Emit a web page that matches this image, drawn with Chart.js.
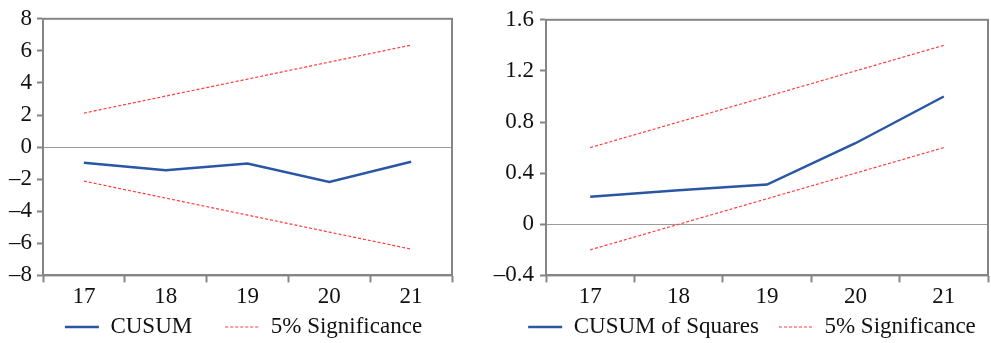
<!DOCTYPE html>
<html lang="en">
<head>
  <meta charset="UTF-8" />
  <title>CUSUM tests</title>
  <script src="https://cdn.jsdelivr.net/npm/chart.js"></script>
  <style>
    body { margin: 0; background: #fff; overflow: hidden; }
    .wrap { position: relative; width: 991px; height: 343px; }
    canvas { position: absolute; top: 0; }
  </style>
</head>
<body>
  <div class="wrap">
    <canvas id="cusumChart" width="480" height="343" style="left:0"></canvas>
    <canvas id="cusumSqChart" width="511" height="343" style="left:480px"></canvas>
  </div>

  <script>
    // categories (observation index)
    const periods = ["17", "18", "19", "20", "21"];

    // left panel: CUSUM
    const cusum = [-0.97, -1.45, -1.03, -2.17, -0.91];
    const cusumUpper = [2.12, 3.18, 4.24, 5.30, 6.36];
    const cusumLower = [-2.12, -3.18, -4.24, -5.30, -6.36];
    const cusumTicks = [-8, -6, -4, -2, 0, 2, 4, 6, 8];

    // right panel: CUSUM of squares
    const cusumSq = [0.215, 0.267, 0.311, 0.634, 1.0];
    const cusumSqUpper = [0.6, 0.8, 1.0, 1.2, 1.4];
    const cusumSqLower = [-0.2, 0.0, 0.2, 0.4, 0.6];
    const cusumSqTicks = [-0.4, 0, 0.4, 0.8, 1.2, 1.6];

    const FONT_SIZE = 23;
    Chart.defaults.font.family = "Liberation Serif, Times New Roman, serif";
    Chart.defaults.font.size = FONT_SIZE;
    Chart.defaults.color = "#111";

    const AXIS = "#858585";
    const BLUE = "#2a56a6";
    const RED = "#ff3b3b";

    // box round the plot area
    const frame = {
      id: "frame",
      afterDatasetsDraw(chart) {
        const a = chart.chartArea, ctx = chart.ctx;
        ctx.save();
        ctx.strokeStyle = AXIS;
        ctx.lineWidth = 2;
        ctx.strokeRect(a.left, a.top, a.right - a.left, a.bottom - a.top);
        ctx.restore();
      }
    };

    // move legend under the plot like the original
    const legendPlace = {
      id: "legendPlace",
      afterLayout(chart, args, o) {
        const lg = chart.legend;
        lg.left += o.dx;
        lg.right += o.dx;
        lg.top = o.textY - lg.options.labels.padding - FONT_SIZE / 2;
        lg.bottom = chart.height;
      }
    };

    function makeChart(id, label, values, upper, lower, ticks, opts) {
      return new Chart(document.getElementById(id), {
        type: "line",
        data: {
          labels: periods,
          datasets: [
            { label: label, data: values, borderColor: BLUE, borderWidth: 2.5, pointRadius: 0, tension: 0 },
            { label: "5% Significance", data: upper, borderColor: RED, borderWidth: 1.2, borderDash: [3, 2], pointRadius: 0 },
            { label: "5% Significance", data: lower, borderColor: RED, borderWidth: 1.2, borderDash: [3, 2], pointRadius: 0 }
          ]
        },
        options: {
          responsive: false,
          animation: false,
          devicePixelRatio: 1,
          layout: { padding: { left: 0, right: opts.right, top: 17, bottom: 0 } },
          plugins: {
            tooltip: { enabled: false },
            legendPlace: { dx: opts.dx, textY: 327 },
            legend: {
              position: "bottom",
              maxHeight: 31,
              labels: {
                usePointStyle: true,
                pointStyleWidth: 34,
                padding: opts.legendGap,
                generateLabels: chart => chart.data.datasets.slice(0, 2).map((d, i) => ({
                  text: d.label,
                  fillStyle: d.borderColor,
                  strokeStyle: d.borderColor,
                  lineWidth: d.borderWidth,
                  lineDash: d.borderDash || [],
                  pointStyle: "line",
                  fontColor: "#111",
                  datasetIndex: i
                }))
              }
            }
          },
          scales: {
            x: {
              offset: true,
              grid: { offset: true, drawOnChartArea: false, tickLength: 7, tickColor: AXIS, tickWidth: 2 },
              border: { color: AXIS, width: 2 },
              ticks: { padding: 1, maxRotation: 0 }
            },
            y: {
              min: ticks[0],
              max: ticks[ticks.length - 1],
              afterBuildTicks: s => { s.ticks = ticks.map(v => ({ value: v })); },
              afterFit: s => { s.width = opts.yWidth; },
              grid: {
                tickLength: 6,
                tickColor: AXIS,
                tickWidth: 2,
                color: c => c.tick && c.tick.value === 0 ? "#9a9a9a" : "rgba(0,0,0,0)",
                lineWidth: 1
              },
              border: { color: AXIS, width: 2 },
              ticks: {
                autoSkip: false,
                padding: opts.yPad,
                callback: v => String(v).replace("-", "\u2013")
              }
            }
          }
        },
        plugins: [frame, legendPlace]
      });
    }

    makeChart("cusumChart", "CUSUM", cusum, cusumUpper, cusumLower, cusumTicks,
      { right: 28, yWidth: 43, yPad: 5, legendGap: 33, dx: 17.5 });

    makeChart("cusumSqChart", "CUSUM of Squares", cusumSq, cusumSqUpper, cusumSqLower, cusumSqTicks,
      { right: 3, yWidth: 66, yPad: 6, legendGap: 20, dx: 18 });
  </script>
</body>
</html>
